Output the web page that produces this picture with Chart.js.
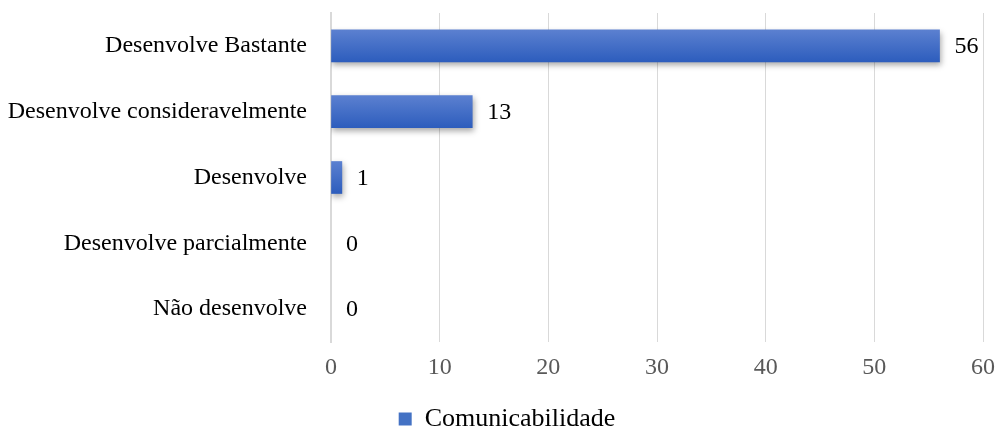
<!DOCTYPE html>
<html>
<head>
<meta charset="utf-8">
<script src="https://cdn.jsdelivr.net/npm/chart.js@4"></script>
<style>
  html, body { margin: 0; padding: 0; background: #fff; }
  #wrap { width: 997px; height: 429px; }
</style>
</head>
<body>
<div id="wrap"><canvas id="chart" width="997" height="429"></canvas></div>
<script>
// Chart data
const categories = ['Desenvolve Bastante', 'Desenvolve consideravelmente', 'Desenvolve', 'Desenvolve parcialmente', 'Não desenvolve'];
const values = [56, 13, 1, 0, 0];
const seriesName = 'Comunicabilidade';

const serif = "'Liberation Serif', 'Times New Roman', serif";
const barSize = 32;

// vertical gradient for each bar, built from the y scale
function barGradient(context) {
    const chart = context.chart;
    const y = chart.scales.y;
    if (values[context.dataIndex] === 0) return 'rgba(0,0,0,0)';
    if (!y || context.dataIndex === undefined) return '#3f6cc8';
    const yc = y.getPixelForValue(context.dataIndex);
    const g = chart.ctx.createLinearGradient(0, yc - barSize / 2, 0, yc + barSize / 2);
    g.addColorStop(0, '#5b80d0');
    g.addColorStop(1, '#2d5dbd');
    return g;
}

// shadow under the bars
const barShadow = {
    id: 'barShadow',
    beforeDatasetDraw(chart) {
        const ctx = chart.ctx;
        ctx.save();
        ctx.shadowColor = 'rgba(0,0,0,0.35)';
        ctx.shadowBlur = 6;
        ctx.shadowOffsetX = 1;
        ctx.shadowOffsetY = 3;
    },
    afterDatasetDraw(chart) {
        chart.ctx.restore();
    }
};

// value labels right of each bar
const valueLabels = {
    id: 'valueLabels',
    afterDatasetsDraw(chart) {
        const ctx = chart.ctx;
        const meta = chart.getDatasetMeta(0);
        ctx.save();
        ctx.font = '24px ' + serif;
        ctx.fillStyle = '#000';
        ctx.textAlign = 'left';
        ctx.textBaseline = 'middle';
        meta.data.forEach((bar, i) => {
            ctx.fillText(String(values[i]), bar.x + 15, bar.y + 1);
        });
        ctx.restore();
    }
};

// legend sits a little right of the page centre
const legendShift = {
    id: 'legendShift',
    afterLayout(chart) {
        if (chart.legend) chart.legend.left += 31;
    }
};

new Chart(document.getElementById('chart'), {
    type: 'bar',
    data: {
        labels: categories,
        datasets: [{
            label: seriesName,
            data: values,
            backgroundColor: barGradient,
            borderWidth: 0,
            barThickness: barSize
        }]
    },
    options: {
        indexAxis: 'y',
        responsive: false,
        animation: false,
        layout: { padding: { left: 0, right: 14, top: 13, bottom: -13 } },
        scales: {
            x: {
                min: 0,
                max: 60,
                afterFit(scale) {
                    scale.height = 56;
                    scale.paddingLeft = 0;
                    scale.paddingRight = 0;
                },
                ticks: {
                    stepSize: 10,
                    color: '#595959',
                    font: { family: serif, size: 24 },
                    padding: 11
                },
                grid: { color: '#d9d9d9', lineWidth: 1, drawTicks: false },
                border: { display: false }
            },
            y: {
                afterFit(scale) {
                    scale.width = 331;
                    scale.paddingTop = 0;
                    scale.paddingBottom = 0;
                },
                ticks: {
                    color: '#000',
                    font: { family: serif, size: 24 },
                    padding: 24
                },
                grid: { display: false, drawTicks: false },
                border: { display: true, color: '#d9d9d9', width: 2 }
            }
        },
        plugins: {
            legend: {
                position: 'bottom',
                labels: {
                    color: '#000',
                    font: { family: serif, size: 26 },
                    boxWidth: 13,
                    boxHeight: 13,
                    padding: 8,
                    generateLabels() {
                        return [{
                            text: seriesName,
                            fillStyle: '#4472c4',
                            strokeStyle: '#4472c4',
                            lineWidth: 0,
                            fontColor: '#000',
                            datasetIndex: 0
                        }];
                    }
                }
            },
            tooltip: { enabled: false }
        }
    },
    plugins: [barShadow, valueLabels, legendShift]
});
</script>
</body>
</html>
